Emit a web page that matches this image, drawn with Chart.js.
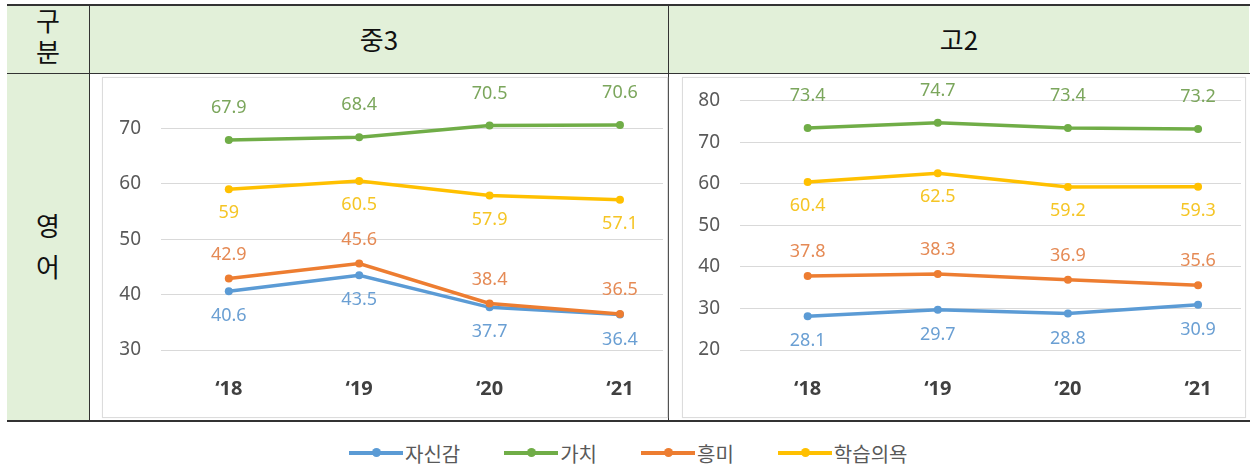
<!DOCTYPE html>
<html>
<head>
<meta charset="utf-8">
<script src="https://cdn.jsdelivr.net/npm/chart.js@4"></script>
<style>
  body { margin: 0; background: #fff; width: 1250px; height: 469px; position: relative; overflow: hidden;
         font-family: "Noto Sans CJK KR", "Noto Sans", sans-serif; }
  .abs { position: absolute; }
  .green { background: #e2f0d9; }
  .hline { position: absolute; background: #333; }
  .cell-text { position: absolute; color: #111; font-size: 26px; text-align: center; }
  .frame { position: absolute; border: 1px solid #dcdcdc; box-shadow: 0 0 1px #eee; }
  .legend { position: absolute; top: 440px; left: 349px; display: flex; align-items: center;
            font-size: 20px; color: #595959; height: 26px; }
  .legend .item { display: flex; align-items: center; }
  .legend .swatch { position: relative; width: 54px; height: 4px; margin-right: 2px; }
  .legend .swatch i { position: absolute; left: 23px; top: -3px; width: 9px; height: 9px; border-radius: 50%; }
</style>
</head>
<body>
<div class="abs green" style="left:7px;top:6px;width:1242px;height:67px"></div>
<div class="abs green" style="left:7px;top:73px;width:82px;height:348px"></div>

<div class="hline" style="left:7px;top:4px;width:1243px;height:2px"></div>
<div class="hline" style="left:7px;top:73px;width:1243px;height:1px"></div>
<div class="hline" style="left:7px;top:420px;width:1243px;height:2px"></div>
<div class="hline" style="left:89px;top:5px;width:1px;height:416px"></div>
<div class="hline" style="left:668px;top:5px;width:1px;height:416px"></div>

<div class="cell-text" style="left:7px;top:4px;width:82px;line-height:31px">구<br>분</div>
<div class="cell-text" style="left:90px;top:21px;width:578px;line-height:36px">중3</div>
<div class="cell-text" style="left:669px;top:21px;width:580px;line-height:36px">고2</div>
<div class="cell-text" style="left:7px;top:204px;width:82px;line-height:41px">영<br>어</div>

<div class="frame" style="left:102px;top:77px;width:564px;height:339px"></div>
<div class="frame" style="left:682px;top:77px;width:562px;height:339px"></div>
<canvas id="mid3" class="abs" width="564" height="339" style="left:103px;top:78px"></canvas>
<canvas id="high2" class="abs" width="562" height="339" style="left:683px;top:78px"></canvas>

<div class="legend" id="legend"></div>

<script>
// categories and series
const years = ["‘18", "‘19", "‘20", "‘21"];
const seriesNames = ["자신감", "가치", "흥미", "학습의욕"];
const seriesColors = ["#5b9bd5", "#70ad47", "#ed7d31", "#ffc000"];

// 중3
const mid3Confidence = [40.6, 43.5, 37.7, 36.4];
const mid3Value = [67.9, 68.4, 70.5, 70.6];
const mid3Interest = [42.9, 45.6, 38.4, 36.5];
const mid3Motivation = [59, 60.5, 57.9, 57.1];

// 고2
const high2Confidence = [28.1, 29.7, 28.8, 30.9];
const high2Value = [73.4, 74.7, 73.4, 73.2];
const high2Interest = [37.8, 38.3, 36.9, 35.6];
const high2Motivation = [60.4, 62.5, 59.2, 59.3];

const mid3Ticks = [30, 40, 50, 60, 70];
const high2Ticks = [20, 30, 40, 50, 60, 70, 80];

// where each series' value label sits relative to its point
const labelOffsets = [25, -32, -24, 24];
const labelColors = ["#6a9fd3", "#7ba65c", "#e58a55", "#f5c525"];
const drawOrder = [2, 1, 0, 1];

const valueLabels = {
  id: "valueLabels",
  afterDatasetsDraw(chart) {
    const ctx = chart.ctx;
    ctx.save();
    ctx.font = '18px "Noto Sans", sans-serif';
    ctx.textAlign = "center";
    ctx.textBaseline = "middle";
    chart.data.datasets.forEach((ds, i) => {
      const meta = chart.getDatasetMeta(i);
      ctx.fillStyle = labelColors[i];
      meta.data.forEach((pt, j) => {
        ctx.fillText(String(ds.data[j].y), pt.x, pt.y + labelOffsets[i]);
      });
    });
    ctx.restore();
  }
};

function makeChart(id, series, yMin, yMax, ticks, axisWidth) {
  const ctx = document.getElementById(id).getContext("2d");
  return new Chart(ctx, {
    type: "line",
    data: {
      datasets: series.map((vals, i) => ({
        label: seriesNames[i],
        data: vals.map((v, j) => ({ x: j, y: v })),
        borderColor: seriesColors[i],
        backgroundColor: seriesColors[i],
        borderWidth: 3.5,
        pointRadius: 4,
        pointBorderWidth: 0,
        tension: 0,
        order: drawOrder[i]
      }))
    },
    options: {
      responsive: false,
      animation: false,
      layout: { padding: { top: 6, left: 0, right: 0, bottom: 0 } },
      plugins: { legend: { display: false }, tooltip: { enabled: false } },
      scales: {
        x: {
          type: "linear",
          min: -0.52,
          max: 3.33,
          grid: { display: false },
          border: { display: false },
          afterBuildTicks: (scale) => { scale.ticks = years.map((y, i) => ({ value: i })); },
          afterFit: (scale) => {
            scale.height = 67;
            scale.paddingLeft = 0;
            scale.paddingRight = 0;
          },
          ticks: {
            padding: 19,
            color: "#404040",
            font: { family: '"Noto Sans", sans-serif', size: 20, weight: "bold" },
            callback: (v) => years[v]
          }
        },
        y: {
          min: yMin,
          max: yMax,
          grid: { color: "#d9d9d9", lineWidth: 1, drawTicks: false },
          border: { display: false },
          afterBuildTicks: (scale) => { scale.ticks = ticks.map((t) => ({ value: t })); },
          afterFit: (scale) => {
            scale.width = axisWidth;
            scale.paddingTop = 0;
            scale.paddingBottom = 0;
          },
          ticks: {
            padding: 20,
            color: "#595959",
            font: { family: '"Noto Sans", sans-serif', size: 19 }
          }
        }
      }
    },
    plugins: [valueLabels]
  });
}

makeChart("mid3", [mid3Confidence, mid3Value, mid3Interest, mid3Motivation], 30, 78, mid3Ticks, 58);
makeChart("high2", [high2Confidence, high2Value, high2Interest, high2Motivation], 20, 84, high2Ticks, 57);

// legend
const legend = document.getElementById("legend");
seriesNames.forEach((name, i) => {
  const item = document.createElement("div");
  item.className = "item";
  item.style.marginRight = i < seriesNames.length - 1 ? "44px" : "0";
  item.innerHTML = '<span class="swatch" style="background:' + seriesColors[i] + '"><i style="background:' +
    seriesColors[i] + '"></i></span><span>' + name + "</span>";
  legend.appendChild(item);
});
</script>
</body>
</html>
